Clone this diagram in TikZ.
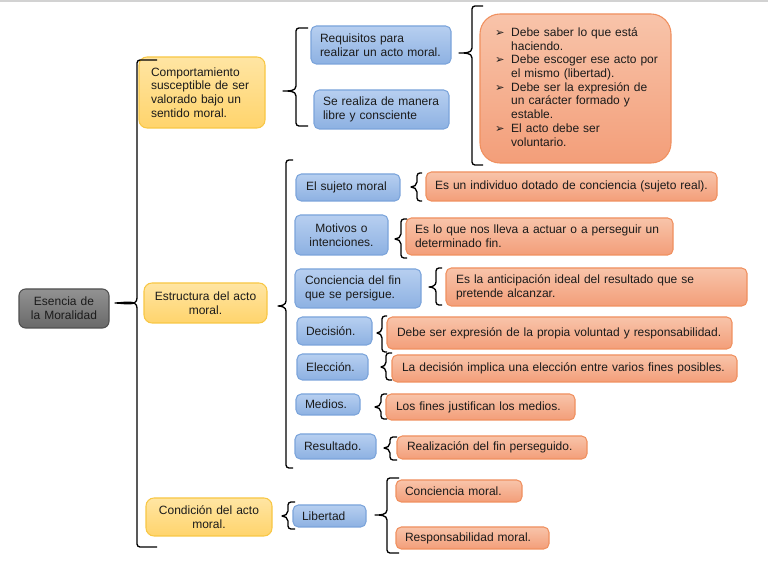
\documentclass[tikz,border=0pt]{standalone}
\usepackage{fontspec}
\setmainfont{Liberation Sans}
\newfontfamily\symf{DejaVu Sans}
\definecolor{bluetop}{HTML}{B7CFF0}
\definecolor{bluebot}{HTML}{8DB1E2}
\definecolor{bluebd}{HTML}{7BA4DB}
\definecolor{oratop}{HTML}{F8C4AA}
\definecolor{orabot}{HTML}{F39E79}
\definecolor{orabd}{HTML}{F0905F}
\definecolor{yeltop}{HTML}{FFE5A3}
\definecolor{yelbot}{HTML}{FFD46C}
\definecolor{yelbd}{HTML}{F8C744}
\definecolor{graytop}{HTML}{929292}
\definecolor{graybot}{HTML}{696969}
\definecolor{graybd}{HTML}{4F4F4F}
\definecolor{txt}{HTML}{1B1B1B}
\definecolor{topline}{HTML}{D2D2D2}
\newcommand{\bx}[8]{%
  \pgfmathsetmacro\bxw{(#5-#3)*0.75}%
  \pgfmathsetmacro\bxh{(#6-#4)*0.75}%
  \pgfmathsetmacro\bxt{(#5-#3-2*#7)*0.75}%
  \node[#2, anchor=north west, minimum width=\bxw pt, minimum height=\bxh pt,
        text width=\bxt pt, inner xsep=0pt, inner ysep=0pt] (#1) at (#3,#4) {#8};}
\newcommand{\brc}[6]{%
  \draw[bracel] (#3,#4) -- (#2+3,#4) to[out=180,in=90] (#2,#4+3) -- (#2,#5-5)
    to[out=270,in=0] (#1,#5) to[out=0,in=90] (#2,#5+5) -- (#2,#6-3)
    to[out=270,in=180] (#2+3,#6) -- (#3,#6);}
\newcommand{\bul}{{\symf\fontsize{8.5}{9}\selectfont ➢}}
\begin{document}
\begin{tikzpicture}[x=0.75pt,y=-0.75pt,
  base/.style={line width=0.8pt, outer sep=0pt, text=txt,
    font=\fontsize{9}{10.3}\selectfont, rounded corners=4pt},
  bluebox/.style={base, draw=bluebd, top color=bluetop, bottom color=bluebot, align=left},
  orabox/.style={base, draw=orabd, top color=oratop, bottom color=orabot, align=left},
  yelbox/.style={base, draw=yelbd, top color=yeltop, bottom color=yelbot, rounded corners=6pt},
  graybox/.style={base, draw=graybd, top color=graytop, bottom color=graybot, rounded corners=5pt, align=center},
  bracel/.style={line width=1pt, black, line join=round}]
\useasboundingbox (0,0) rectangle (768,566);
\fill[white] (0,0) rectangle (768,566);
\draw[topline, line width=2pt] (0,1) -- (768,1);

% root
\bx{root}{graybox}{19}{289}{109}{328}{4}{Esencia de\\la Moralidad}
% level 1
\bx{comp}{yelbox, align=left}{139}{57}{265}{128}{12}{Comportamiento\\susceptible de ser\\valorado bajo un\\sentido moral.}
\bx{estr}{yelbox, align=center}{144}{283}{267}{323}{4}{Estructura del acto\\moral.}
\bx{cond}{yelbox, align=center}{146}{498}{272}{536}{4}{Condición del acto\\moral.}
% level 2 (comp)
\bx{req}{bluebox}{311}{26}{451}{64}{9}{Requisitos para\\realizar un acto moral.}
\bx{libre}{bluebox}{314}{90}{449}{129}{9}{Se realiza de manera\\libre y consciente}
\bx{list}{orabox, rounded corners=15pt}{480}{14}{671}{163}{15}{%
  \begin{tabular}{@{}l@{\hspace{5pt}}l@{}}
  \bul & Debe saber lo que está\\
       & haciendo.\\
  \bul & Debe escoger ese acto por\\
       & el mismo (libertad).\\
  \bul & Debe ser la expresión de\\
       & un carácter formado y\\
       & estable.\\
  \bul & El acto debe ser\\
       & voluntario.
  \end{tabular}}
% level 2 (estr)
\bx{suj}{bluebox}{296}{174}{400}{201}{10}{El sujeto moral}
\bx{mot}{bluebox, align=center}{295}{215}{388}{255}{4}{Motivos o\\intenciones.}
\bx{conc}{bluebox}{295}{269}{421}{308}{10}{Conciencia del fin\\que se persigue.}
\bx{dec}{bluebox}{297}{317}{372}{345}{9}{Decisión.}
\bx{ele}{bluebox}{297}{354}{368}{380}{9}{Elección.}
\bx{med}{bluebox}{296}{394}{360}{415}{9}{Medios.}
\bx{res}{bluebox}{295}{434}{376}{459}{9}{Resultado.}
% level 3 (estr)
\bx{sujd}{orabox}{426}{172}{717}{201}{9}{Es un individuo dotado de conciencia (sujeto real).}
\bx{motd}{orabox}{406}{218}{673}{255}{9}{Es lo que nos lleva a actuar o a perseguir un\\determinado fin.}
\bx{concd}{orabox}{446}{268}{747}{306}{10}{Es la anticipación ideal del resultado que se\\pretende alcanzar.}
\bx{decd}{orabox}{387}{317}{732}{349}{10}{Debe ser expresión de la propia voluntad y responsabilidad.}
\bx{eled}{orabox}{392}{355}{737}{382}{10}{La decisión implica una elección entre varios fines posibles.}
\bx{medd}{orabox}{386}{394}{575}{420}{10}{Los fines justifican los medios.}
\bx{resd}{orabox}{397}{436}{587}{459}{10}{Realización del fin perseguido.}
% condicion
\bx{lib}{bluebox}{293}{505}{366}{527}{9}{Libertad}
\bx{cmor}{orabox}{396}{480}{522}{502}{9}{Conciencia moral.}
\bx{rmor}{orabox}{396}{527}{549}{549}{9}{Responsabilidad moral.}

% braces
\brc{115}{137}{157}{60}{303}{547}
\brc{283}{296}{308}{28}{91}{126}
\brc{459}{472}{483}{6}{53}{165}
\brc{278}{286}{293}{160}{306}{468}
\brc{411}{417}{422}{173}{187}{201}
\brc{395}{401}{407}{219}{239}{258}
\brc{429}{436}{442}{268}{287}{305}
\brc{377}{382}{387}{316}{333}{352}
\brc{381}{386}{392}{353}{367}{380}
\brc{375}{381}{387}{394}{407}{419}
\brc{384}{390}{397}{437}{448}{460}
\brc{282}{288}{295}{502}{516}{529}
\brc{375}{387}{399}{478}{515}{553}
\end{tikzpicture}
\end{document}
